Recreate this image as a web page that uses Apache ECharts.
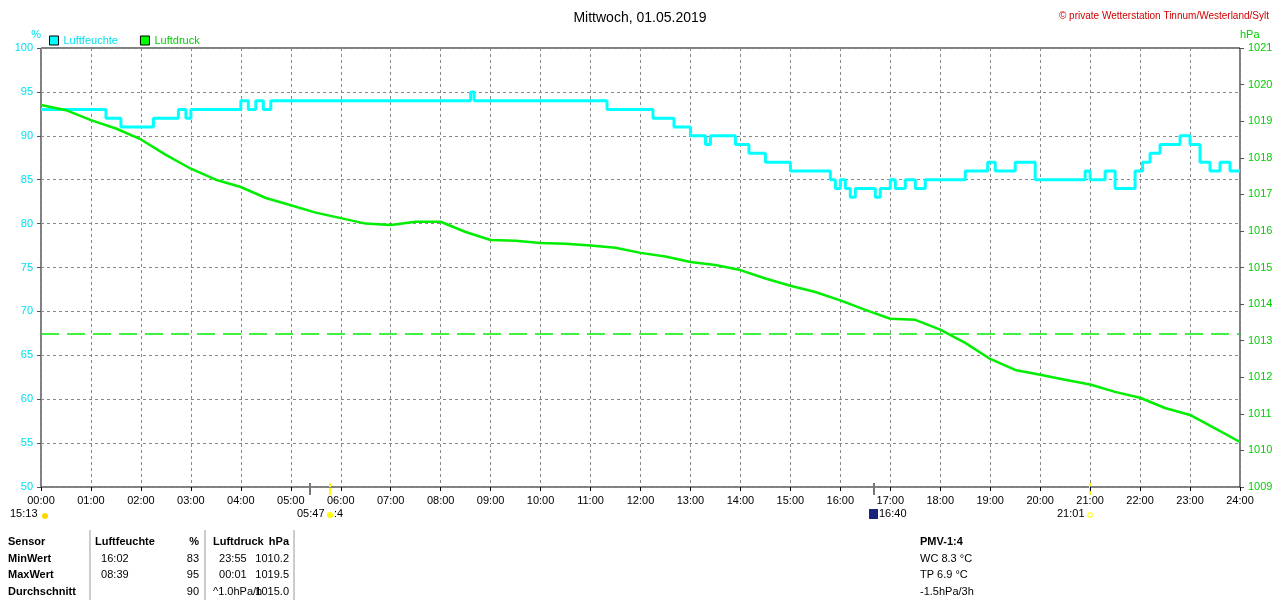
<!DOCTYPE html>
<html>
<head>
<meta charset="utf-8">
<script src="https://cdn.jsdelivr.net/npm/echarts@6/dist/echarts.min.js"></script>
<style>html,body{margin:0;padding:0;background:#fff}#c{width:1280px;height:600px}</style>
</head>
<body>
<div id="c"></div>
<script>
// Luftfeuchte (%) - Stufen, Zeit in Stunden
var humTimes = [0, 1.0, 1.3, 1.6, 2.25, 2.75, 2.9, 3.0, 4.0, 4.15, 4.3, 4.45, 4.6, 4.67, 8.6, 8.67, 11.33, 12.25, 12.67, 13.0, 13.3, 13.4, 13.9, 14.17, 14.5, 15.0, 15.8, 15.9, 16.0, 16.1, 16.2, 16.3, 16.7, 16.8, 17.0, 17.1, 17.3, 17.5, 17.7, 18.5, 18.95, 19.1, 19.5, 19.9, 20.9, 21.0, 21.3, 21.5, 21.9, 22.05, 22.2, 22.4, 22.8, 23.0, 23.2, 23.4, 23.6, 23.8, 24];
var humVals  = [93, 93, 92, 91, 92, 93, 92, 93, 94, 93, 94, 93, 94, 94, 95, 94, 93, 92, 91, 90, 89, 90, 89, 88, 87, 86, 85, 84, 85, 84, 83, 84, 83, 84, 85, 84, 85, 84, 85, 86, 87, 86, 87, 85, 86, 85, 86, 84, 86, 87, 88, 89, 90, 89, 87, 86, 87, 86, 86];
// Luftdruck (hPa), halbstuendlich
var presTimes = [0,0.5,1,1.5,2,2.5,3,3.5,4,4.5,5,5.5,6,6.5,7,7.5,8,8.5,9,9.5,10,10.5,11,11.5,12,12.5,13,13.5,14,14.5,15,15.5,16,16.5,17,17.5,18,18.5,19,19.5,20,20.5,21,21.5,22,22.5,23,23.5,24];
var presVals  = [1019.44,1019.3,1019.03,1018.8,1018.5,1018.08,1017.7,1017.4,1017.2,1016.9,1016.7,1016.5,1016.35,1016.2,1016.16,1016.25,1016.25,1015.97,1015.75,1015.73,1015.67,1015.65,1015.6,1015.54,1015.4,1015.3,1015.15,1015.07,1014.93,1014.7,1014.5,1014.33,1014.1,1013.84,1013.6,1013.57,1013.3,1012.94,1012.5,1012.2,1012.07,1011.93,1011.8,1011.6,1011.44,1011.16,1010.97,1010.6,1010.23];
var presRef = 1013.2;
var hourLabels = [];
for (var i = 0; i <= 24; i++) hourLabels.push((i < 10 ? '0' : '') + i + ':00');

function pair(t, v) { return t.map(function (x, i) { return [x, v[i]]; }); }

var F = 'Liberation Sans, Arial, sans-serif';
var chart = echarts.init(document.getElementById('c'));
var rows = [
  ['Sensor', 'Luftfeuchte', '%', 'Luftdruck', 'hPa'],
  ['MinWert', '  16:02', '83', '  23:55', '1010.2'],
  ['MaxWert', '  08:39', '95', '  00:01', '1019.5'],
  ['Durchschnitt', '', '90', '^1.0hPa/h', '1015.0']
];
var g = [];
function txt(x, y, t, bold, align) {
  g.push({type:'text', x:x, y:y, style:{text:t, font:(bold ? 'bold ' : '') + '11px ' + F, fill:'#000', align:align || 'left', verticalAlign:'middle'}});
}
rows.forEach(function (r, i) {
  var y = 542 + i * 16.5, h = i === 0;
  txt(8, y, r[0], true);
  txt(95, y, r[1], h);
  txt(199, y, r[2], h, 'right');
  txt(213, y, r[3], h);
  txt(289, y, r[4], h, 'right');
});
['PMV-1:4', 'WC 8.3 °C', 'TP 6.9 °C', '-1.5hPa/3h'].forEach(function (t, i) {
  txt(920, 542 + i * 16.5, t, i === 0);
});
[90, 205, 294].forEach(function (x) {
  g.push({type:'line', shape:{x1:x, y1:530, x2:x, y2:600}, style:{stroke:'#999', lineWidth:1}});
});
// Sonnenauf-/untergang Markierungen unter der Achse
txt(10, 514, '15:13');
txt(297, 514, '05:47');
txt(334, 514, ':4');
txt(879, 514, '16:40');
txt(1057, 514, '21:01');
g.push({type:'circle', shape:{cx:45, cy:516, r:3}, style:{fill:'#ffd700'}});
g.push({type:'circle', shape:{cx:330, cy:515, r:3}, style:{fill:'#ffff00'}});
g.push({type:'rect', shape:{x:869, y:509, width:9, height:10}, style:{fill:'#1a237e'}});
g.push({type:'rect', shape:{x:1088, y:513, width:4, height:4}, style:{fill:'none', stroke:'#ffff00'}});
[[310, '#777'], [330, '#ffff00'], [874, '#777'], [1090, '#ffff00']].forEach(function (m) {
  g.push({type:'line', shape:{x1:m[0], y1:483, x2:m[0], y2:495}, style:{stroke:m[1], lineWidth:2}});
});

chart.setOption({
  animation: false,
  backgroundColor: '#fff',
  textStyle: {fontFamily: F},
  title: [
    {text:'Mittwoch, 01.05.2019', left:'center', top:6, textStyle:{fontSize:14, fontWeight:'normal', color:'#000'}},
    {text:'© private Wetterstation Tinnum/Westerland/Sylt', right:6, top:6, textStyle:{fontSize:10, fontWeight:'normal', color:'#d00000'}}
  ],
  legend: {
    left: 44, top: 30, itemWidth: 9, itemHeight: 9, itemGap: 22, icon: 'rect',
    textStyle: {fontSize: 11},
    data: [
      {name:'Luftfeuchte', itemStyle:{color:'#00ffff', borderColor:'#000', borderWidth:1}, textStyle:{color:'#00e0f0'}},
      {name:'Luftdruck', itemStyle:{color:'#00ff00', borderColor:'#000', borderWidth:1}, textStyle:{color:'#00d000'}}
    ]
  },
  grid: {left:41, right:40, top:48, bottom:113, show:true, borderColor:'#000', borderWidth:1, backgroundColor:'#fff'},
  xAxis: {
    type:'value', min:0, max:24, interval:1,
    axisLine:{show:false}, axisTick:{show:true, length:4, lineStyle:{color:'#000'}},
    axisLabel:{color:'#000', fontSize:11, margin:8, formatter:function (v) { return hourLabels[v]; }},
    splitLine:{show:true, lineStyle:{color:'#888', type:[3, 3]}}
  },
  yAxis: [
    {type:'value', min:50, max:100, interval:5, name:'%', nameGap:8, nameTextStyle:{color:'#00e0f0', fontSize:11, align:'right'},
     axisLine:{show:false}, axisTick:{show:true, length:4}, axisLabel:{color:'#00e0f0', fontSize:11},
     splitLine:{show:true, lineStyle:{color:'#888', type:[3, 3]}}},
    {type:'value', min:1009, max:1021, interval:1, name:'hPa', nameGap:8, nameTextStyle:{color:'#00d000', fontSize:11, align:'left'},
     axisLine:{show:false}, axisTick:{show:true, length:4},
     axisLabel:{color:'#00d000', fontSize:11, formatter:function (v) { return String(v); }},
     splitLine:{show:false}}
  ],
  series: [
    {name:'Luftfeuchte', type:'line', step:'end', yAxisIndex:0, data:pair(humTimes, humVals), symbol:'none',
     lineStyle:{color:'#00ffff', width:3}, itemStyle:{color:'#00ffff'}},
    {name:'Luftdruck', type:'line', yAxisIndex:1, data:pair(presTimes, presVals), symbol:'none',
     lineStyle:{color:'#00ee00', width:2.5}, itemStyle:{color:'#00ff00'},
     markLine:{silent:true, symbol:'none', label:{show:false}, lineStyle:{color:'#00ee00', type:[18, 8], width:1.5},
       data:[{yAxis:presRef}]}}
  ],
  graphic: g
});
</script>
</body>
</html>
